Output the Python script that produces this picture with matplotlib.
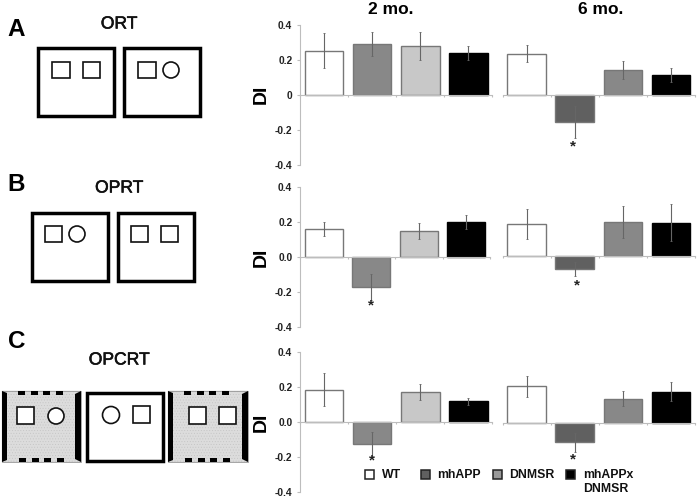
import matplotlib.pyplot as plt
import matplotlib.patheffects as pe
from matplotlib.patches import Circle, Polygon, Rectangle

plt.rcParams["font.family"] = ["Liberation Sans", "DejaVu Sans"]
plt.rcParams["hatch.linewidth"] = 0.3

W, H = 697, 498

GROUPS = ["WT", "mhAPP", "DNMSR", "mhAPPx\nDNMSR"]

A_2MO = [0.25, 0.29, 0.28, 0.24]
A_2MO_ERR = [0.10, 0.07, 0.08, 0.04]
A_6MO = [0.235, -0.155, 0.14, 0.115]
A_6MO_ERR = [0.05, 0.09, 0.05, 0.04]

B_2MO = [0.16, -0.17, 0.15, 0.20]
B_2MO_ERR = [0.04, 0.075, 0.045, 0.04]
B_6MO = [0.185, -0.075, 0.195, 0.19]
B_6MO_ERR = [0.085, 0.04, 0.09, 0.105]

C_2MO = [0.185, -0.125, 0.17, 0.12]
C_2MO_ERR = [0.095, 0.07, 0.045, 0.02]
C_6MO = [0.21, -0.11, 0.14, 0.18]
C_6MO_ERR = [0.06, 0.055, 0.045, 0.055]

COLORS_2MO = ["white", "#888888", "#c8c8c8", "black"]
COLORS_6MO = ["white", "#606060", "#888888", "black"]
EDGE = "#777777"
AXIS = "#bdbdbd"


def px_axes(fig, x0, x1, top, bottom):
    return fig.add_axes([x0 / W, 1 - bottom / H, (x1 - x0) / W, (bottom - top) / H])


def bar_panel(fig, box, vals, errs, colors, star=None, yaxis=False, ticks=None):
    ax = px_axes(fig, *box)
    for i, (v, e, c) in enumerate(zip(vals, errs, colors)):
        ax.bar(i, v, width=0.8, color=c, edgecolor=EDGE if c != "black" else "black", linewidth=1.0, zorder=2)
        ax.errorbar(i, v, yerr=e, color="#666666", elinewidth=0.8, capsize=1.0, capthick=0.6, zorder=3)
    ax.set_xlim(-0.5, len(vals) - 0.5)
    ax.set_ylim(-0.4, 0.4)
    ax.patch.set_alpha(0)
    for side in ["top", "right"]:
        ax.spines[side].set_visible(False)
    ax.spines["bottom"].set_position(("data", 0))
    ax.spines["bottom"].set_color(AXIS)
    ax.spines["bottom"].set_linewidth(0.8)
    ax.set_xticks([i - 0.5 for i in range(len(vals) + 1)])
    ax.set_xticklabels([])
    ax.tick_params(axis="x", direction="out", length=1.5, width=0.8, color=AXIS)
    if yaxis:
        ax.spines["left"].set_color(AXIS)
        ax.spines["left"].set_linewidth(0.8)
        ax.set_yticks([-0.4, -0.2, 0, 0.2, 0.4])
        ax.set_yticklabels(ticks, fontsize=7.4, fontweight="bold", color="#222222")
        ax.tick_params(axis="y", length=2, width=0.8, color=AXIS, pad=3.5)
        ax.set_ylabel("DI", fontsize=14, fontweight="bold", labelpad=0)
        ax.yaxis.set_label_coords(-30 / (box[1] - box[0]), 0.5)
    else:
        ax.spines["left"].set_visible(False)
        ax.set_yticks([])
    if star:
        ax.text(star[0], star[1], "*", ha="center", va="center", fontsize=11, fontweight="bold", color="#222222")
    return ax


def arena(ax, x0, y0, x1, y1, lw=2.5):
    ax.add_patch(Rectangle((x0 + 1.5, y0 + 1.5), x1 - x0 - 3, y1 - y0 - 3, fc="white", ec="black", lw=lw))


def cued_arena(ax, x0, y0, x1, y1):
    ax.add_patch(Rectangle((x0, y0), x1 - x0, y1 - y0, fc="#dcdcdc", ec="#c2c2c2", hatch="......", lw=0.3))
    ax.add_patch(Rectangle((x0, y0), x1 - x0, y1 - y0, fc="none", ec="#999999", lw=0.6))
    ax.add_patch(Polygon([(x0, y0), (x0 + 5, y0 + 2), (x0 + 5, y1 - 2), (x0, y1)], fc="black", ec="none"))
    ax.add_patch(Polygon([(x1, y0), (x1 - 6, y0 + 3), (x1 - 6, y1 - 3), (x1, y1)], fc="black", ec="none"))
    for dx in [16, 29, 41, 54]:
        ax.add_patch(Rectangle((x0 + dx, y0), 7, 3.7, fc="black", ec="none"))
        ax.add_patch(Rectangle((x0 + dx + 1, y1 - 4.5), 7, 4.5, fc="black", ec="none"))


def square(ax, x0, y0, x1, y1):
    ax.add_patch(Rectangle((x0, y0), x1 - x0, y1 - y0, fc="white", ec="#111111", lw=1.2))


def circle(ax, x, y, r=8):
    ax.add_patch(Circle((x, y), r, fc="white", ec="#111111", lw=1.2))


fig = plt.figure(figsize=(W / 100, H / 100), dpi=100)

bar_panel(fig, (300, 492.5, 24.7, 164.7), A_2MO, A_2MO_ERR, COLORS_2MO, yaxis=True, ticks=["-0.4", "-0.2", "0", "0.2", "0.4"])
bar_panel(fig, (502.5, 695, 24.7, 164.7), A_6MO, A_6MO_ERR, COLORS_6MO, star=(0.96, -0.295))
bar_panel(fig, (300, 490, 187, 327.3), B_2MO, B_2MO_ERR, COLORS_2MO, star=(1, -0.275), yaxis=True, ticks=["-0.4", "-0.2", "0.0", "0.2", "0.4"])
bar_panel(fig, (502.5, 695, 186, 326.3), B_6MO, B_6MO_ERR, COLORS_6MO, star=(1.04, -0.17))
bar_panel(fig, (300, 492.5, 352, 492.3), C_2MO, C_2MO_ERR, COLORS_2MO, star=(1, -0.22), yaxis=True, ticks=["-0.4", "-0.2", "0.0", "0.2", "0.4"])
bar_panel(fig, (502.5, 695, 353, 493.3), C_6MO, C_6MO_ERR, COLORS_6MO, star=(0.96, -0.205))

# overlay in pixel coordinates for the schematics, labels and legend
ov = fig.add_axes([0, 0, 1, 1], zorder=5)
ov.set_xlim(0, W)
ov.set_ylim(H, 0)
ov.axis("off")
ov.patch.set_alpha(0)

ov.text(390.5, 9, "2 mo.", ha="center", va="center", fontsize=12.5, fontweight="bold")
ov.text(601, 9, "6 mo.", ha="center", va="center", fontsize=12.5, fontweight="bold")

for letter, y in [("A", 29), ("B", 184), ("C", 341)]:
    ov.text(16.5, y, letter, ha="center", va="center", fontsize=17.5, fontweight="bold")
thick = [pe.withStroke(linewidth=0.4, foreground="#111111")]
for name, x, y in [("ORT", 119, 24), ("OPRT", 119, 188), ("OPCRT", 119, 360)]:
    ov.text(x, y, name, ha="center", va="center", fontsize=12.6, color="#111111", path_effects=thick)

arena(ov, 36, 46, 115, 117)
arena(ov, 122, 46, 201, 117)
square(ov, 52, 62, 70, 78)
square(ov, 83, 62, 100, 78)
square(ov, 138, 62, 156, 78)
circle(ov, 171, 70)

arena(ov, 30, 211, 109, 282)
arena(ov, 116, 211, 195, 282)
square(ov, 45, 226, 62, 242)
circle(ov, 77, 234)
square(ov, 131, 226, 148, 242)
square(ov, 161, 226, 178, 242)

cued_arena(ov, 2, 391, 81, 462)
arena(ov, 85, 391, 164, 462)
cued_arena(ov, 168, 391, 248, 462)
square(ov, 17, 407, 34, 424)
circle(ov, 56, 416)
circle(ov, 111, 415, 8.5)
square(ov, 133, 406, 150, 423)
square(ov, 189, 407, 206, 424)
square(ov, 219, 407, 236, 424)

legend_x = [369.5, 425.7, 497, 570]
legend_text_x = [381.5, 437.5, 509, 583]
legend_colors = ["white", "#606060", "#999999", "black"]
for name, mx, tx, c in zip(GROUPS, legend_x, legend_text_x, legend_colors):
    ov.add_patch(Rectangle((mx - 4.5, 469.5), 9, 9, fc=c, ec="#222222", lw=1.1))
    ov.text(tx, 469, name, ha="left", va="top", fontsize=8.8, fontweight="bold", color="#111111", linespacing=1.25)

fig.savefig("out.png", dpi=100)
plt.close(fig)
